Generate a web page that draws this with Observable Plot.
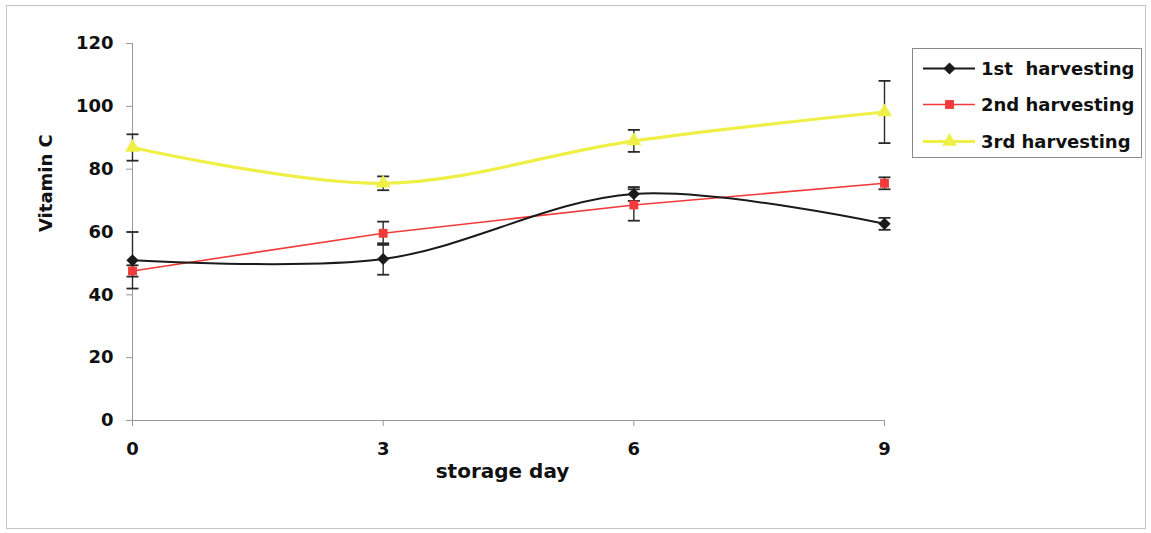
<!DOCTYPE html>
<html>
<head>
<meta charset="utf-8">
<script src="https://cdn.jsdelivr.net/npm/d3@7"></script>
<script src="https://cdn.jsdelivr.net/npm/@observablehq/plot@0.6"></script>
<style>
  html, body { margin: 0; padding: 0; background: #fff; }
  #wrap { position: relative; width: 1151px; height: 533px; font-family: "DejaVu Sans", sans-serif; }
  #frame { position: absolute; left: 6px; top: 5px; width: 1140px; height: 524px; border: 1px solid #c4c4c4; box-sizing: border-box; pointer-events: none; }
  #legend { position: absolute; left: 912px; top: 48px; width: 230px; height: 110px; border: 1px solid #8a8a8a; box-sizing: border-box; background: #fff; }
  .row { position: absolute; left: 0; height: 30px; display: flex; align-items: center; }
  .row span { font-weight: bold; font-size: 18px; color: #111; white-space: pre; margin-left: 6px; }
  #chart svg { position: absolute; left: 0; top: 0; }
</style>
</head>
<body>
<div id="wrap">
  <div id="chart"></div>
  <div id="frame"></div>
  <div id="legend"></div>
</div>
<script>
const days = [0, 3, 6, 9];
const seriesNames = ["1st  harvesting", "2nd harvesting", "3rd harvesting"];
const first = [51.0, 51.4, 72.1, 62.6];
const firstErr = [9.0, 5.0, 2.2, 1.9];
const second = [47.6, 59.6, 68.6, 75.5];
const secondErr = [1.8, 3.7, 5.0, 1.9];
const third = [86.9, 75.5, 89.0, 98.2];
const thirdErr = [4.2, 2.2, 3.5, 9.9];
const yTicks = [0, 20, 40, 60, 80, 100, 120];

const colors = ["#1a1a1a", "#f23a3a", "#eef045"];
const widths = [2, 1.6, 3.2];
const symbols = ["diamond2", "square", "triangle"];
const radii = [5.5, 5, 5.5];
const curves = ["catmull-rom", "linear", "catmull-rom"];

const all = [first, second, third];
const errs = [firstErr, secondErr, thirdErr];
const tables = all.map((vals, s) => days.map((d, i) => ({
  day: d, v: vals[i], lo: vals[i] - errs[s][i], hi: vals[i] + errs[s][i], s
})));

const cap = {
  draw(ctx, size) {
    const r = Math.sqrt(size / Math.PI);
    ctx.moveTo(-r, 0);
    ctx.lineTo(r, 0);
  }
};

const marks = [
  Plot.ruleX([0], {y1: 0, y2: 120, stroke: "#999", strokeWidth: 1}),
  Plot.ruleY([0], {x1: 0, x2: 9, stroke: "#999", strokeWidth: 1}),
  Plot.axisY({ticks: yTicks, tickSize: 6, tickPadding: 13, fontSize: 18, fontWeight: "bold", fill: "#111", stroke: "#999", label: null}),
  Plot.axisX({ticks: days, tickSize: 6, tickPadding: 16, fontSize: 18, fontWeight: "bold", fill: "#111", stroke: "#999", label: null}),
  Plot.text(["Vitamin C"], {frameAnchor: "left", dx: -86, rotate: -90, fontSize: 18, fontWeight: "bold", fill: "#111"}),
  Plot.text(["storage day"], {frameAnchor: "bottom", dx: -6, dy: 51, lineAnchor: "middle", fontSize: 20, fontWeight: "bold", fill: "#111"})
];

[2, 1, 0].forEach(s => {
  marks.push(Plot.line(tables[s], {x: "day", y: "v", stroke: colors[s], strokeWidth: widths[s], curve: curves[s]}));
});
[2, 1, 0].forEach(s => {
  marks.push(Plot.ruleX(tables[s], {x: "day", y1: "lo", y2: "hi", stroke: "#2a2a2a", strokeWidth: 1.4}));
  marks.push(Plot.dot(tables[s], {x: "day", y: "lo", symbol: cap, r: 6, stroke: "#2a2a2a", strokeWidth: 1.8}));
  marks.push(Plot.dot(tables[s], {x: "day", y: "hi", symbol: cap, r: 6, stroke: "#2a2a2a", strokeWidth: 1.8}));
});
[2, 1, 0].forEach(s => {
  marks.push(Plot.dot(tables[s], {x: "day", y: "v", symbol: symbols[s], r: radii[s], fill: colors[s], stroke: "none"}));
});

const chart = Plot.plot({
  width: 1151,
  height: 533,
  marginLeft: 132,
  marginRight: 267,
  marginTop: 43,
  marginBottom: 113,
  style: {fontFamily: "DejaVu Sans, sans-serif", background: "transparent"},
  x: {domain: [0, 9], axis: null},
  y: {domain: [0, 120], axis: null},
  marks
});
document.getElementById("chart").appendChild(chart);

const legend = document.getElementById("legend");
const rowTops = [4, 40, 77];
seriesNames.forEach((name, s) => {
  const row = document.createElement("div");
  row.className = "row";
  row.style.top = rowTops[s] + "px";
  row.style.left = "10px";
  const sw = Plot.plot({
    width: 52, height: 30, margin: 0,
    x: {domain: [0, 1], axis: null},
    y: {domain: [0, 1], axis: null},
    style: {background: "transparent"},
    marks: [
      Plot.ruleY([0.5], {x1: 0, x2: 1, stroke: colors[s], strokeWidth: widths[s]}),
      Plot.dot([{x: 0.5, y: 0.5}], {x: "x", y: "y", symbol: symbols[s], r: radii[s], fill: colors[s]})
    ]
  });
  sw.style.position = "static";
  row.appendChild(sw);
  const t = document.createElement("span");
  t.textContent = name;
  row.appendChild(t);
  legend.appendChild(row);
});
</script>
</body>
</html>
